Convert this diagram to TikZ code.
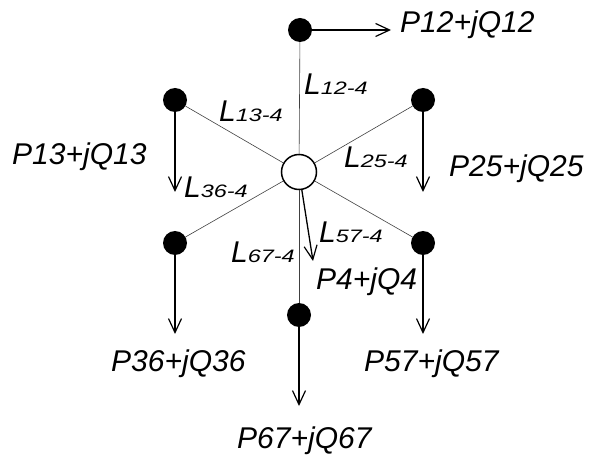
\documentclass[tikz,border=0pt]{standalone}
\usepackage{fontspec}
\setmainfont{Liberation Sans}
\newfontfamily\subfnt[FakeStretch=1.3]{Liberation Sans}
\usetikzlibrary{arrows.meta}
\begin{document}
\begin{tikzpicture}[x=1pt,y=-1pt,
 bus/.style={circle,fill=black,minimum size=24pt,inner sep=0},
 hub/.style={circle,draw=black,line width=1.5pt,fill=white,minimum size=35pt,inner sep=0},
 branch/.style={draw=black!75,line width=0.6pt},
 flow/.style={draw=black,line width=1.3pt,-{Straight Barb[length=14pt,width=13pt,line width=1.2pt]}},
 txt/.style={anchor=base west,inner sep=0,font=\fontsize{30}{36}\selectfont\itshape},
]
\useasboundingbox (0,0) rectangle (595,457);
% buses
\node[hub] (c) at (299,172) {};
\node[bus] (n12) at (300,30) {};
\node[bus] (n13) at (175,100) {};
\node[bus] (n25) at (423,100) {};
\node[bus] (n36) at (175,243) {};
\node[bus] (n57) at (423,243) {};
\node[bus] (n67) at (299,315) {};
% branches
\draw[branch] (c) -- (n12);
\draw[branch] (c) -- (n13);
\draw[branch] (c) -- (n25);
\draw[branch] (c) -- (n36);
\draw[branch] (c) -- (n57);
\draw[branch] (c) -- (n67);
% arrow ends
\coordinate (a12) at (391,30);
\coordinate (a13) at (175,192);
\coordinate (a25) at (423,192);
\coordinate (a36) at (175,334);
\coordinate (a57) at (423,334);
\coordinate (a67) at (299,406);
\coordinate (a4) at (313,261);
\draw[flow] (n12) -- (a12);
\draw[flow] (n13) -- (a13);
\draw[flow] (n25) -- (a25);
\draw[flow] (n36) -- (a36);
\draw[flow] (n57) -- (a57);
\draw[flow] (n67) -- (a67);
\draw[flow] (c) -- (a4);
% power labels
\node[txt] (t12) at (400,33) {P12+jQ12};
\node[txt] (t13) at (12,165) {P13+jQ13};
\node[txt] (t25) at (449,177) {P25+jQ25};
\node[txt] (t36) at (111,372) {P36+jQ36};
\node[txt] (t57) at (364,372) {P57+jQ57};
\node[txt] (t67) at (237,448) {P67+jQ67};
\node[txt] (t4) at (316,290) {P4+jQ4};
% line labels
\node[txt] (l12) at (304,95) {L{\subfnt\itshape\fontsize{18}{20}\selectfont 12-4}};
\node[txt] (l13) at (219,122) {L{\subfnt\itshape\fontsize{18}{20}\selectfont 13-4}};
\node[txt] (l25) at (344,168) {L{\subfnt\itshape\fontsize{18}{20}\selectfont 25-4}};
\node[txt] (l36) at (184,198) {L{\subfnt\itshape\fontsize{18}{20}\selectfont 36-4}};
\node[txt] (l57) at (319,243) {L{\subfnt\itshape\fontsize{18}{20}\selectfont 57-4}};
\node[txt] (l67) at (231,263) {L{\subfnt\itshape\fontsize{18}{20}\selectfont 67-4}};
\end{tikzpicture}
\end{document}
